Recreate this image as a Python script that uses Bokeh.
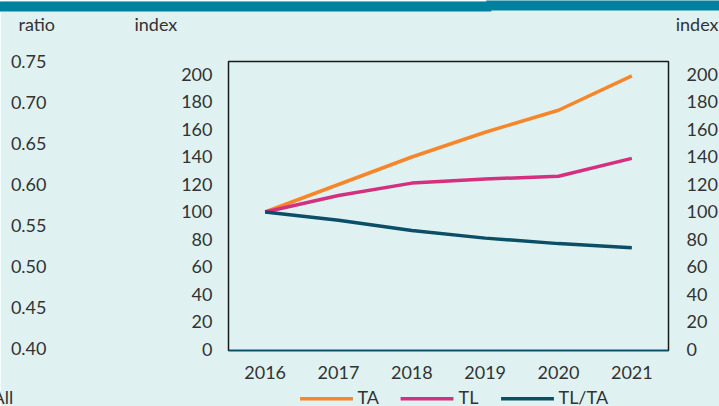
from bokeh.plotting import figure
from bokeh.models import (LinearAxis, Range1d, FixedTicker, NumeralTickFormatter, Label)
from bokeh.embed import file_html
from bokeh.resources import INLINE

# ---- data ----
years = [2016, 2017, 2018, 2019, 2020, 2021]
ta = [100, 120, 140, 158, 174, 199]
tl = [100, 112, 121, 124, 126, 139]
tl_ta = [100, 94, 86.5, 81, 77, 74]
series_names = ["TA", "TL", "TL/TA"]
index_ticks = [0, 20, 40, 60, 80, 100, 120, 140, 160, 180, 200]
ratio_ticks = [0.40, 0.45, 0.50, 0.55, 0.60, 0.65, 0.70, 0.75]
header_left_ratio = "ratio"
header_index = "index"
footer_text = "All"

# ---- style ----
FONT = "Lato"
FS = "18px"
BG = "#DFF2F1"
TOPBAR = "#00829F"
TXT = "#333333"
ORANGE = "#F6862A"
PINK = "#D4307F"
DARK = "#0B4E68"
series_colors = [ORANGE, PINK, DARK]

W, H = 719, 406
FL, FR, FT, FB = 228, 668, 61, 350
X0, X1 = 2015.5, 2021.5
Y0, Y1 = -0.73, 209.45
R0, R1 = 0.3976, 0.7502


def dx(cx):
    return X0 + (cx - FL) / (FR - FL) * (X1 - X0)


def dy(cy):
    return Y0 + (FB - cy) / (FB - FT) * (Y1 - Y0)


p = figure(frame_width=FR - FL, frame_height=FB - FT,
           x_range=Range1d(X0, X1), y_range=Range1d(Y0, Y1),
           output_backend="svg", toolbar_location=None,
           x_axis_type=None, y_axis_type=None,
           min_border_left=FL, min_border_right=W - FR,
           min_border_top=FT, min_border_bottom=H - FB)
p.title.visible = False
p.extra_y_ranges = {"ratio": Range1d(R0, R1)}
p.background_fill_color = BG
p.border_fill_color = BG
p.outline_line_color = "#1a1a1a"
p.outline_line_width = 1.5
p.xgrid.visible = False
p.ygrid.visible = False


def style_axis(ax, standoff):
    ax.axis_label = None
    ax.axis_label_standoff = 0
    ax.axis_label_text_font_size = "0px"
    ax.axis_line_color = None
    ax.major_tick_line_color = None
    ax.minor_tick_line_color = None
    ax.major_tick_out = 0
    ax.major_tick_in = 0
    ax.major_label_standoff = standoff
    ax.major_label_text_font = FONT
    ax.major_label_text_font_size = FS
    ax.major_label_text_color = TXT


xaxis = LinearAxis(ticker=FixedTicker(ticks=years, minor_ticks=[]))
style_axis(xaxis, 15)
xaxis.axis_line_color = DARK
xaxis.axis_line_width = 1.5
p.add_layout(xaxis, "below")

yl = LinearAxis(ticker=FixedTicker(ticks=index_ticks, minor_ticks=[]))
style_axis(yl, 16)
p.add_layout(yl, "left")

yratio = LinearAxis(y_range_name="ratio",
                    ticker=FixedTicker(ticks=ratio_ticks, minor_ticks=[]),
                    formatter=NumeralTickFormatter(format="0.00"))
style_axis(yratio, 132)
p.add_layout(yratio, "left")

yr = LinearAxis(ticker=FixedTicker(ticks=index_ticks, minor_ticks=[]))
style_axis(yr, 18)
p.add_layout(yr, "right")

for vals, col in zip([ta, tl, tl_ta], series_colors):
    p.line(years, vals, line_color=col, line_width=3.5)

HAS_PAD = "padding" in Label.properties()


# filled strips (blank labels with a filled background), placed in an outer panel
def add_strip(cx, cy, pad_x, color, font_px):
    kw = dict(x=dx(cx), y=dy(cy), text=" ", text_font_size=font_px,
              text_align="center", text_baseline="middle",
              background_fill_color=color, border_line_color=None)
    if HAS_PAD:
        kw["padding"] = (pad_x, 0)
    p.add_layout(Label(**kw), "below")


def add_label(cx, cy, text, align):
    p.add_layout(Label(x=dx(cx), y=dy(cy), text=text, text_font=FONT,
                       text_font_size=FS, text_color=TXT, text_align=align,
                       text_baseline="alphabetic"), "below")


# top bar
add_strip(244.5, 6, 245, TOPBAR, "9px")
add_strip(604, 5, 117, TOPBAR, "9px")

# legend: coloured line samples with their labels
legend_line_x = [326, 426.5, 527]
legend_text_x = [357, 458, 558]
for lx, tx, name, col in zip(legend_line_x, legend_text_x, series_names, series_colors):
    add_strip(lx, 398.3, 26, col, "3px")
    add_label(tx, 396, name, "left")

# headers and footer
add_label(18, 23.5, header_left_ratio, "left")
add_label(134, 23.5, header_index, "left")
add_label(718, 23.5, header_index, "right")
add_label(-8, 396, footer_text, "left")

open("out.html", "w").write(file_html(p, INLINE))
